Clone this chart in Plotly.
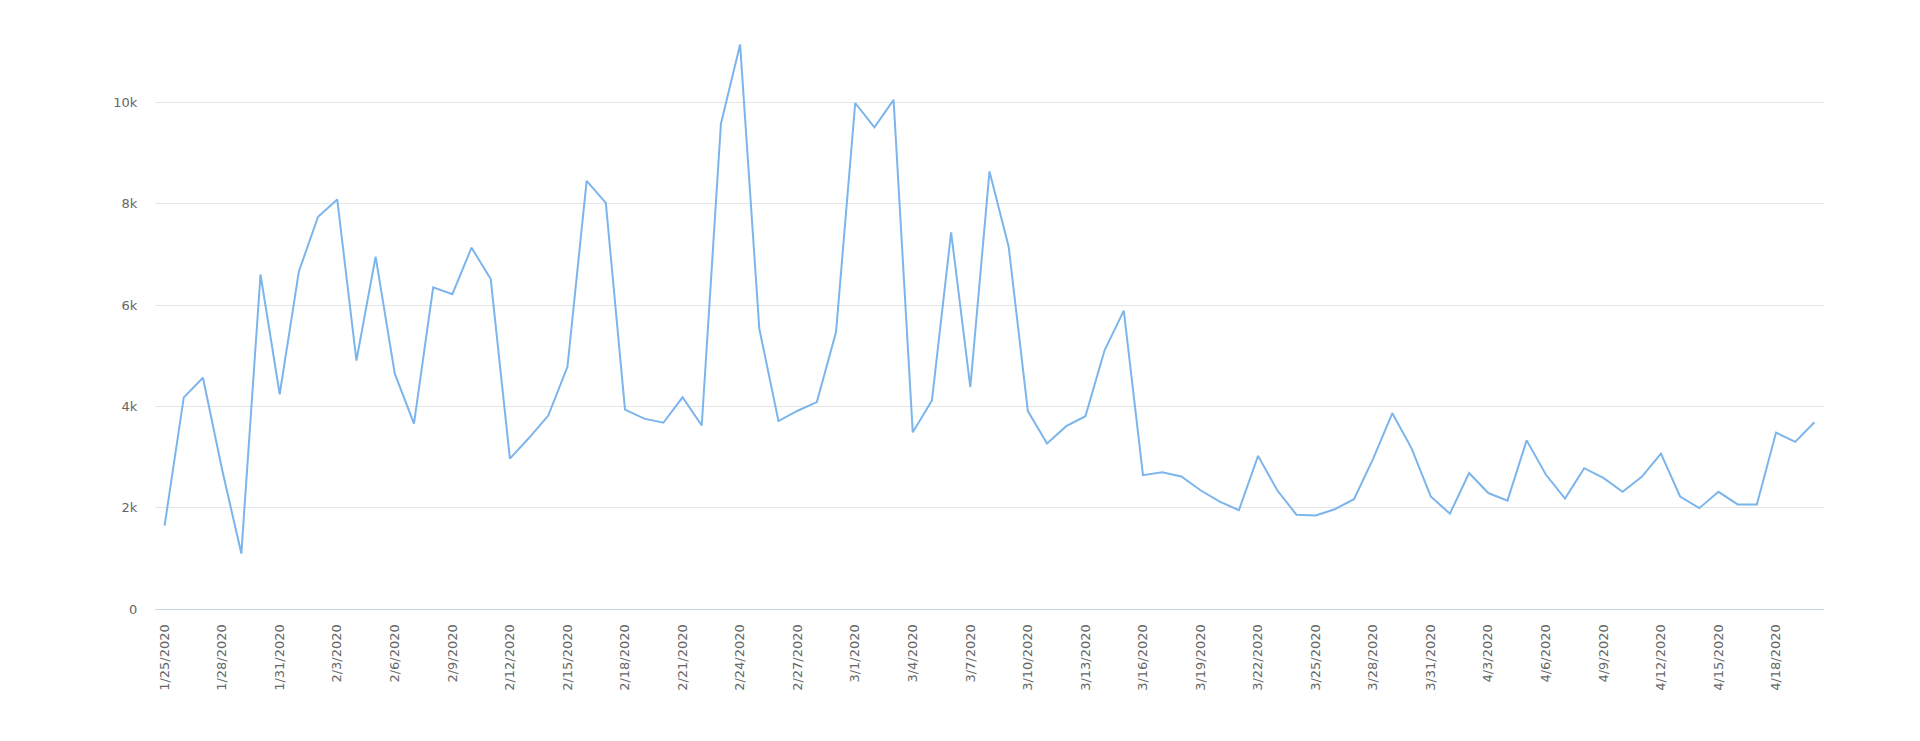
import plotly.graph_objects as go

# daily counts, 1/25/2020 .. 4/20/2020
dates = ['1/25/2020', '1/26/2020', '1/27/2020', '1/28/2020', '1/29/2020', '1/30/2020', '1/31/2020',
         '2/1/2020', '2/2/2020', '2/3/2020', '2/4/2020', '2/5/2020', '2/6/2020', '2/7/2020', '2/8/2020',
         '2/9/2020', '2/10/2020', '2/11/2020', '2/12/2020', '2/13/2020', '2/14/2020', '2/15/2020',
         '2/16/2020', '2/17/2020', '2/18/2020', '2/19/2020', '2/20/2020', '2/21/2020', '2/22/2020',
         '2/23/2020', '2/24/2020', '2/25/2020', '2/26/2020', '2/27/2020', '2/28/2020', '2/29/2020',
         '3/1/2020', '3/2/2020', '3/3/2020', '3/4/2020', '3/5/2020', '3/6/2020', '3/7/2020', '3/8/2020',
         '3/9/2020', '3/10/2020', '3/11/2020', '3/12/2020', '3/13/2020', '3/14/2020', '3/15/2020',
         '3/16/2020', '3/17/2020', '3/18/2020', '3/19/2020', '3/20/2020', '3/21/2020', '3/22/2020',
         '3/23/2020', '3/24/2020', '3/25/2020', '3/26/2020', '3/27/2020', '3/28/2020', '3/29/2020',
         '3/30/2020', '3/31/2020', '4/1/2020', '4/2/2020', '4/3/2020', '4/4/2020', '4/5/2020',
         '4/6/2020', '4/7/2020', '4/8/2020', '4/9/2020', '4/10/2020', '4/11/2020', '4/12/2020',
         '4/13/2020', '4/14/2020', '4/15/2020', '4/16/2020', '4/17/2020', '4/18/2020', '4/19/2020',
         '4/20/2020']

values = [1644, 4178, 4565, 2750, 1094, 6603, 4239, 6664, 7744, 8084,
          4905, 6956, 4646, 3661, 6351, 6216, 7133, 6514, 2969, 3380,
          3818, 4782, 8451, 8016, 3935, 3758, 3677, 4179, 3622, 9581,
          11142, 5536, 3710, 3914, 4084, 5468, 9989, 9507, 10050, 3487,
          4118, 7437, 4382, 8638, 7152, 3907, 3269, 3609, 3806, 5108,
          5890, 2642, 2697, 2615, 2344, 2119, 1950, 3023, 2344, 1861,
          1848, 1970, 2167, 2969, 3865, 3172, 2221, 1882, 2683, 2289,
          2140, 3329, 2655, 2180, 2780, 2589, 2313, 2609, 3069, 2221,
          1991, 2313, 2064, 2064, 3483, 3299, 3687]

x_ticks = dates[::3]
y_ticks = [0, 2000, 4000, 6000, 8000, 10000]
y_tick_text = ['0', '2k', '4k', '6k', '8k', '10k']

fig = go.Figure()
fig.add_trace(go.Scatter(x=dates, y=values, mode='lines',
                         line=dict(color='#7cb5ec', width=2),
                         showlegend=False))

# page body keeps its 8px margin, so the figure is 16px smaller than the window
fig.update_layout(
    width=1904, height=725,
    margin=dict(l=147, r=88, t=22, b=124),
    plot_bgcolor='white', paper_bgcolor='white',
    font=dict(family='DejaVu Sans', size=13, color='#666666'),
)
fig.update_xaxes(type='category', range=[-0.5, len(dates) - 0.5],
                 tickmode='array', tickvals=x_ticks, tickangle=-90,
                 showgrid=False, zeroline=False,
                 showline=True, linecolor='#ccd6eb', linewidth=1,
                 ticks='outside', ticklen=9, tickcolor='rgba(0,0,0,0)',
                 automargin=False)
fig.update_yaxes(range=[0, 11430], tickmode='array', tickvals=y_ticks, ticktext=y_tick_text,
                 showgrid=True, gridcolor='#e6e6e6', gridwidth=1, zeroline=False,
                 showline=False,
                 ticks='outside', ticklen=14, tickcolor='rgba(0,0,0,0)',
                 automargin=False)

fig.write_html("out.html")
